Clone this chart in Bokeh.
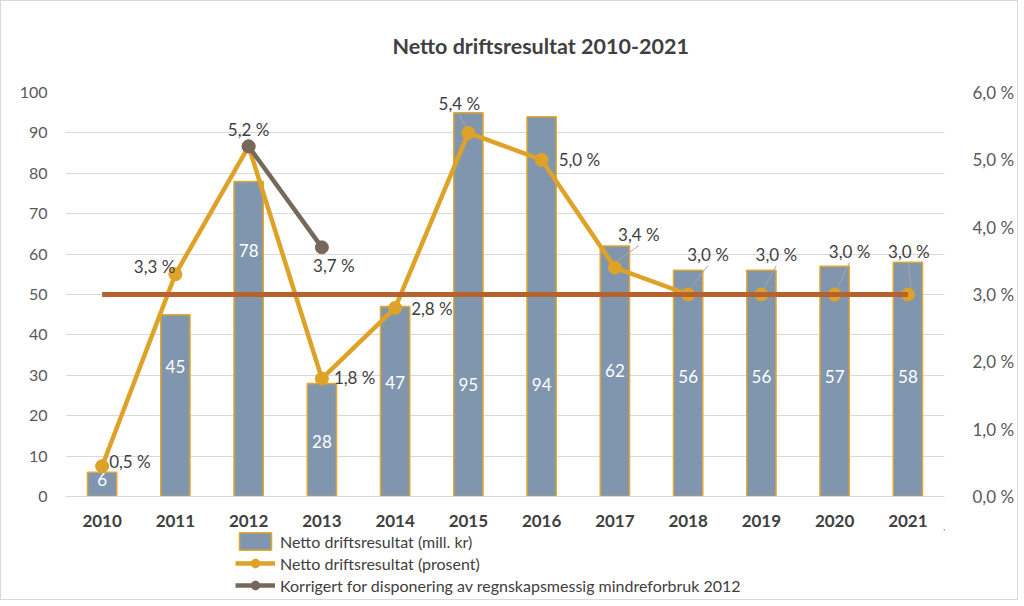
from bokeh.plotting import figure
from bokeh.models import (ColumnDataSource, LinearAxis, Range1d, FixedTicker,
                          CustomJSTickFormatter, Legend, LegendItem, Label)
from bokeh.layouts import column
from bokeh.embed import file_html
from bokeh.resources import INLINE
from bokeh.core.properties import value

# ---------------- data ----------------
years = [2010, 2011, 2012, 2013, 2014, 2015, 2016, 2017, 2018, 2019, 2020, 2021]
result_mnok = [6, 45, 78, 28, 47, 95, 94, 62, 56, 56, 57, 58]
result_pct = [0.45, 3.3, 5.2, 1.75, 2.8, 5.4, 5.0, 3.4, 3.0, 3.0, 3.0, 3.0]
pct_labels = ["0,5 %", "3,3 %", "", "1,8 %", "2,8 %", "5,4 %", "5,0 %",
              "3,4 %", "3,0 %", "3,0 %", "3,0 %", "3,0 %"]
corr_years = [2012, 2013]
corr_pct = [5.2, 3.7]
corr_labels = ["5,2 %", "3,7 %"]
target_pct = [3.0] * 12
title_text = "Netto driftsresultat 2010-2021"
legend_labels = ["Netto driftsresultat (mill. kr)",
                 "Netto driftsresultat (prosent)",
                 "Korrigert for disponering av regnskapsmessig mindreforbruk 2012"]

# ---------------- label placement (style) ----------------
bar_label_y = [4.2, 32.3, 60.8, 13.5, 28.3, 27.8, 27.8, 31.3, 29.8, 29.8, 29.8, 29.8]
pct_dx = [7, 0, 0, 12, 16, -9, 17, 24, 20, 15, 15, 1]
pct_dy = [-5, -8, 0, -1, 1, -29, 0, -33, -40, -40, -43, -43]
pct_align = ["left", "right", "center", "left", "left", "center", "left",
             "center", "center", "center", "center", "center"]
corr_dx = [0, 12]
corr_dy = [-17, 18]
leader_idx = [5, 7, 8, 9, 10, 11]
PX_X = 74.0   # pixels per year
PX_Y = 67.7   # pixels per percent

TXT = "#404040"
FONT = "Lato"
BAR_FILL = "#7F96AE"
BAR_LINE = "#E3A72C"
ORANGE = "#DFA229"
GREY = "#77685C"
BROWN = "#B5622E"
W = 1016
FL, FR = 64, 952   # frame edges (pixels) shared by the stacked figures


def blank(h, x0=FL, y0=0):
    f = figure(width=W, height=h, x_range=Range1d(x0, x0 + FR - FL), y_range=Range1d(y0, y0 + h),
               output_backend="svg", toolbar_location=None, min_border=0,
               min_border_left=FL, min_border_right=W - FR)
    f.axis.visible = False
    f.grid.grid_line_color = None
    f.outline_line_color = None
    return f


# ---------------- title ----------------
tf = blank(80)
tf.add_layout(Label(x=544, y=36, text=title_text, text_align="center",
                    text_baseline="middle", text_font_size="21.5px", text_font_style="bold",
                    text_color=TXT, text_font=FONT))

# ---------------- main chart ----------------
src = ColumnDataSource(dict(x=years, v=result_mnok, p=result_pct, lab=pct_labels,
                            vl=[str(v) for v in result_mnok], by=bar_label_y,
                            dx=pct_dx, dy=pct_dy, al=pct_align, t=target_pct))
csrc = ColumnDataSource(dict(x=corr_years, p=corr_pct, lab=corr_labels, dx=corr_dx, dy=corr_dy))

p = figure(width=W, height=448, x_range=Range1d(2009.5, 2021.5),
           y_range=Range1d(0, 100), output_backend="svg", toolbar_location=None,
           min_border_left=FL, min_border_right=W - FR, min_border_top=11,
           min_border_bottom=31)
p.extra_y_ranges = {"pct": Range1d(0, 6)}
p.outline_line_color = None

p.xaxis.ticker = FixedTicker(ticks=years)
p.xaxis.major_label_text_font_style = "bold"
p.xaxis.major_label_text_font_size = "17px"
p.xaxis.major_label_text_color = TXT
p.xaxis.major_label_text_font = FONT
p.xaxis.axis_line_color = "#D9D9D9"
p.xaxis.major_tick_line_color = None
p.xaxis.minor_tick_line_color = None
p.xaxis.major_label_standoff = 12

p.yaxis.ticker = FixedTicker(ticks=list(range(0, 101, 10)))
p.yaxis.axis_line_color = None
p.yaxis.major_tick_line_color = None
p.yaxis.minor_tick_line_color = None
p.yaxis.major_label_text_font_size = "16px"
p.yaxis.major_label_text_color = "#595959"
p.yaxis.major_label_text_font = FONT
p.yaxis.major_label_standoff = 12

ra = LinearAxis(y_range_name="pct", ticker=FixedTicker(ticks=[0, 1, 2, 3, 4, 5, 6]),
                formatter=CustomJSTickFormatter(code="return tick.toFixed(1).replace('.', ',') + ' %';"))
ra.axis_line_color = None
ra.major_tick_line_color = None
ra.minor_tick_line_color = None
ra.major_label_text_font_size = "17px"
ra.major_label_text_color = "#595959"
ra.major_label_text_font = FONT
ra.major_label_standoff = 22
p.add_layout(ra, "right")

p.xgrid.grid_line_color = None
p.ygrid.grid_line_color = "#D9D9D9"
p.ygrid.ticker = FixedTicker(ticks=list(range(0, 101, 10)))

p.vbar(x="x", top="v", width=0.4, source=src, fill_color=BAR_FILL,
       line_color=BAR_LINE, line_width=1.5)
p.text(x="x", y="by", text="vl", source=src, text_color="white", text_align="center",
       text_baseline="middle", text_font_size="17px", text_font=value(FONT))

p.line(x="x", y="p", source=src, y_range_name="pct", line_color=ORANGE, line_width=4.5)
p.scatter(x="x", y="p", source=src, y_range_name="pct", size=13, fill_color=ORANGE,
          line_color=ORANGE)

p.line(x="x", y="t", source=src, y_range_name="pct", line_color=BROWN, line_width=5)

p.line(x="x", y="p", source=csrc, y_range_name="pct", line_color=GREY, line_width=4.5)
p.scatter(x="x", y="p", source=csrc, y_range_name="pct", size=13, fill_color=GREY,
          line_color=GREY)

lx0 = [years[i] + 0.04 * (1 if pct_dx[i] >= 0 else -1) for i in leader_idx]
ly0 = [result_pct[i] + 0.1 for i in leader_idx]
lx1 = [years[i] + pct_dx[i] / PX_X for i in leader_idx]
ly1 = [result_pct[i] - (pct_dy[i] + 11) / PX_Y for i in leader_idx]
p.segment(x0=lx0, y0=ly0, x1=lx1, y1=ly1, y_range_name="pct", line_color="#A6A6A6", line_width=1)

p.text(x="x", y="p", text="lab", source=src, y_range_name="pct", x_offset="dx", y_offset="dy",
       text_align="al", text_baseline="middle", text_font_size="17px", text_color=TXT,
       text_font=value(FONT))
p.text(x="x", y="p", text="lab", source=csrc, y_range_name="pct", x_offset="dx", y_offset="dy",
       text_align="center", text_baseline="middle", text_font_size="17px", text_color=TXT,
       text_font=value(FONT))

# ---------------- legend (separate strip; its glyphs reuse the series data,
# which lies far outside this strip's ranges, so only the legend swatches show) ----------------
lf = blank(70, x0=-20000, y0=-20000)
r_bar = lf.vbar(x="x", top="v", width=0.4, source=src, fill_color=BAR_FILL,
                line_color=BAR_LINE, line_width=1.5)
r_ol = lf.line(x="x", y="p", source=src, line_color=ORANGE, line_width=4.5)
r_oc = lf.scatter(x="x", y="p", source=src, size=13, fill_color=ORANGE, line_color=ORANGE)
r_gl = lf.line(x="x", y="p", source=csrc, line_color=GREY, line_width=4.5)
r_gc = lf.scatter(x="x", y="p", source=csrc, size=13, fill_color=GREY, line_color=GREY)
legend = Legend(items=[LegendItem(label=legend_labels[0], renderers=[r_bar]),
                       LegendItem(label=legend_labels[1], renderers=[r_ol, r_oc]),
                       LegendItem(label=legend_labels[2], renderers=[r_gl, r_gc])],
                location=(234 - FL, 3), orientation="vertical", padding=0, margin=0, spacing=0,
                glyph_width=40, glyph_height=22, label_height=22, label_standoff=5,
                label_text_font_size="16px", label_text_color=TXT, label_text_font=FONT,
                border_line_color=None, background_fill_alpha=0)
lf.add_layout(legend, "center")

layout = column(tf, p, lf, spacing=0, styles={"border": "1px solid #D9D9D9"})
open("out.html", "w").write(file_html(layout, INLINE))
